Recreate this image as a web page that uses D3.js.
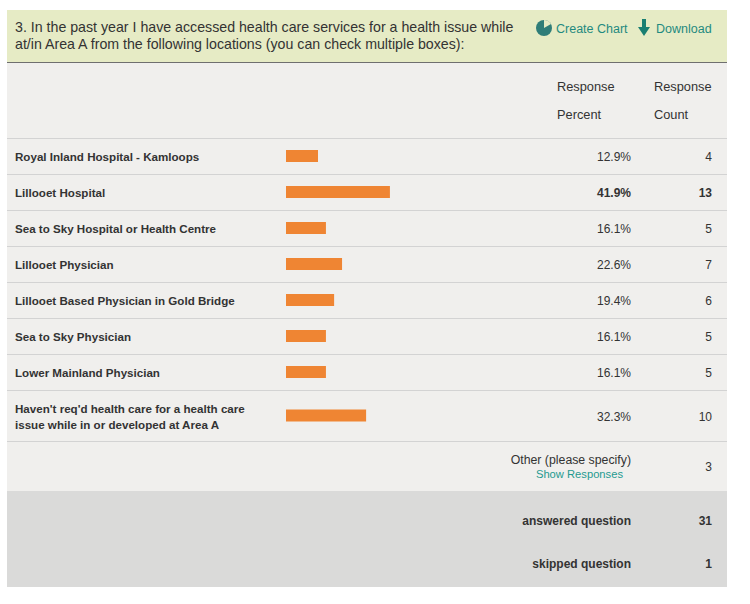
<!DOCTYPE html>
<html>
<head>
<meta charset="utf-8">
<script src="https://cdn.jsdelivr.net/npm/d3@7"></script>
<style>
  body { margin: 0; background: #fff; }
  text { font-family: Arial, "Liberation Sans", sans-serif; }
</style>
</head>
<body>
<div id="chart"></div>
<script>
var question = [
    "3. In the past year I have accessed health care services for a health issue while",
    "at/in Area A from the following locations (you can check multiple boxes):"
];
var answers = [
    ["Royal Inland Hospital - Kamloops"],
    ["Lillooet Hospital"],
    ["Sea to Sky Hospital or Health Centre"],
    ["Lillooet Physician"],
    ["Lillooet Based Physician in Gold Bridge"],
    ["Sea to Sky Physician"],
    ["Lower Mainland Physician"],
    ["Haven't req'd health care for a health care", "issue while in or developed at Area A"]
];
var percents = [12.9, 41.9, 16.1, 22.6, 19.4, 16.1, 16.1, 32.3];
var counts = [4, 13, 5, 7, 6, 5, 5, 10];
var otherCount = 3;
var answered = 31;
var skipped = 1;

var left = 7, right = 727;
var svg = d3.select("#chart").append("svg")
    .attr("width", 750)
    .attr("height", 604);

var x = d3.scaleLinear().domain([0, 100]).range([0, 248]);
var maxCount = d3.max(counts);

// green question header
svg.append("rect")
    .attr("x", left).attr("y", 10)
    .attr("width", right - left).attr("height", 52)
    .attr("fill", "#e6ebc5");
svg.append("line")
    .attr("x1", left).attr("x2", right)
    .attr("y1", 62.5).attr("y2", 62.5)
    .attr("stroke", "#6f6f6f").attr("stroke-width", 1);
svg.selectAll(".qline")
    .data(question)
    .enter()
    .append("text")
    .attr("class", "qline")
    .attr("x", 15)
    .attr("y", function(d, i) { return 32 + i * 17; })
    .attr("font-size", 14.2)
    .attr("fill", "#333")
    .text(function(d) { return d; });

// create chart / download links
var teal = "#1f8a80";
var pie = svg.append("g").attr("transform", "translate(544,28)");
pie.append("circle").attr("r", 8).attr("fill", "#2f7d78");
pie.append("path")
    .attr("d", "M0,0 L0,-8 A8,8 0 0,1 7,-3.9 Z")
    .attr("fill", "#e6ebc5");
svg.append("text")
    .attr("x", 556).attr("y", 33)
    .attr("font-size", 12.5).attr("fill", teal)
    .text("Create Chart");
svg.append("path")
    .attr("d", "M642,19 L646,19 L646,27 L650,27 L644,36 L638,27 L642,27 Z")
    .attr("fill", "#1a7f72");
svg.append("text")
    .attr("x", 656).attr("y", 33)
    .attr("font-size", 12.5).attr("fill", teal)
    .text("Download");

// table header
svg.append("rect")
    .attr("x", left).attr("y", 63)
    .attr("width", right - left).attr("height", 428)
    .attr("fill", "#f0efed");
var colHeads = [["Response", "Percent", 557], ["Response", "Count", 654]];
colHeads.forEach(function(c) {
    svg.append("text").attr("x", c[2]).attr("y", 91)
        .attr("font-size", 12.8).attr("fill", "#333").text(c[0]);
    svg.append("text").attr("x", c[2]).attr("y", 119)
        .attr("font-size", 12.8).attr("fill", "#333").text(c[1]);
});

// answer rows
var rowTop = [];
var yy = 138;
answers.forEach(function(a) {
    rowTop.push(yy);
    yy += a.length > 1 ? 51 : 36;
});
var otherTop = yy;

var rowG = svg.selectAll(".row")
    .data(answers)
    .enter()
    .append("g")
    .attr("class", "row")
    .attr("transform", function(d, i) { return "translate(0," + rowTop[i] + ")"; });

rowG.append("line")
    .attr("x1", left).attr("x2", right)
    .attr("y1", 0.5).attr("y2", 0.5)
    .attr("stroke", "#d3d3d3");

rowG.each(function(d, i) {
    var g = d3.select(this);
    var h = d.length > 1 ? 51 : 36;
    var mid = h / 2;
    d.forEach(function(line, j) {
        g.append("text")
            .attr("x", 15)
            .attr("y", mid + 5 + (j - (d.length - 1) / 2) * 16)
            .attr("font-size", 11.6).attr("font-weight", "bold")
            .attr("fill", "#333")
            .text(line);
    });
    g.append("rect")
        .attr("x", 286)
        .attr("y", mid - 6)
        .attr("width", x(percents[i]))
        .attr("height", 12)
        .attr("fill", "#ef8533");
    var strong = counts[i] === maxCount ? "bold" : "normal";
    g.append("text")
        .attr("x", 631).attr("y", mid + 5)
        .attr("text-anchor", "end")
        .attr("font-size", 12).attr("font-weight", strong)
        .attr("fill", "#333")
        .text(percents[i].toFixed(1) + "%");
    g.append("text")
        .attr("x", 712).attr("y", mid + 5)
        .attr("text-anchor", "end")
        .attr("font-size", 12).attr("font-weight", strong)
        .attr("fill", "#333")
        .text(counts[i]);
});

// other row
svg.append("line")
    .attr("x1", left).attr("x2", right)
    .attr("y1", otherTop + 0.5).attr("y2", otherTop + 0.5)
    .attr("stroke", "#d3d3d3");
svg.append("text")
    .attr("x", 631).attr("y", otherTop + 23)
    .attr("text-anchor", "end")
    .attr("font-size", 12.3).attr("fill", "#333")
    .text("Other (please specify)");
svg.append("text")
    .attr("x", 623).attr("y", otherTop + 37)
    .attr("text-anchor", "end")
    .attr("font-size", 11.2).attr("fill", "#1f9a90")
    .text("Show Responses");
svg.append("text")
    .attr("x", 712).attr("y", otherTop + 30)
    .attr("text-anchor", "end")
    .attr("font-size", 12).attr("fill", "#333")
    .text(otherCount);

// summary footer
var footTop = otherTop + 50;
svg.append("rect")
    .attr("x", left).attr("y", footTop)
    .attr("width", right - left).attr("height", 587 - footTop)
    .attr("fill", "#dadad9");
var summary = [["answered question", answered], ["skipped question", skipped]];
svg.selectAll(".sumLabel")
    .data(summary)
    .enter()
    .append("text")
    .attr("class", "sumLabel")
    .attr("x", 631)
    .attr("y", function(d, i) { return footTop + 34 + i * 43; })
    .attr("text-anchor", "end")
    .attr("font-size", 12).attr("font-weight", "bold")
    .attr("fill", "#333")
    .text(function(d) { return d[0]; });
svg.selectAll(".sumVal")
    .data(summary)
    .enter()
    .append("text")
    .attr("class", "sumVal")
    .attr("x", 712)
    .attr("y", function(d, i) { return footTop + 34 + i * 43; })
    .attr("text-anchor", "end")
    .attr("font-size", 12).attr("font-weight", "bold")
    .attr("fill", "#333")
    .text(function(d) { return d[1]; });
</script>
</body>
</html>
